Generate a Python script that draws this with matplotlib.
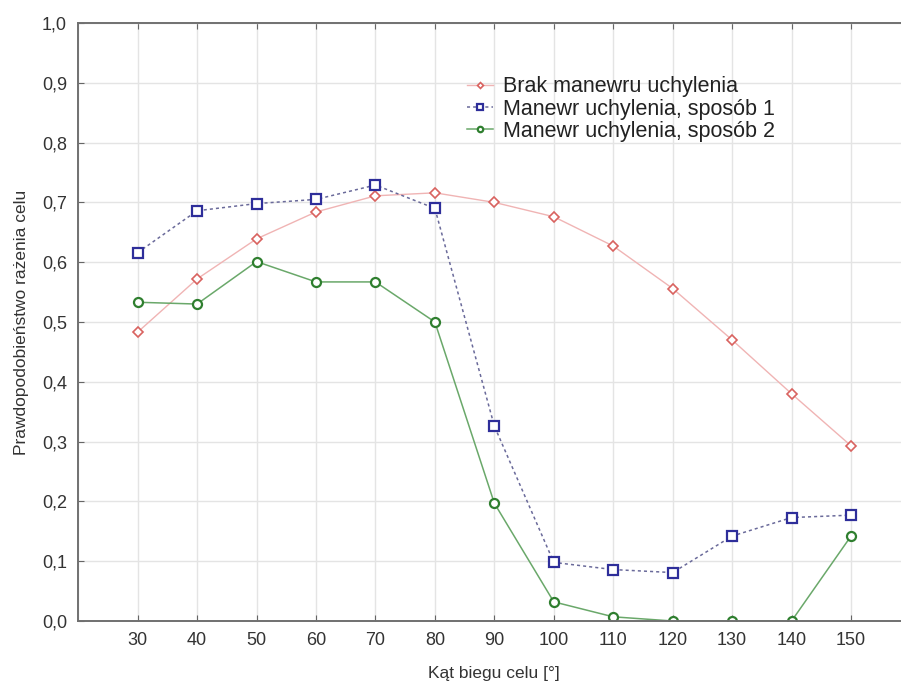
import matplotlib
matplotlib.use("Agg")
import matplotlib.pyplot as plt

# data
katy = [30, 40, 50, 60, 70, 80, 90, 100, 110, 120, 130, 140, 150]
brak = [0.483, 0.572, 0.639, 0.684, 0.711, 0.716, 0.700, 0.676, 0.627, 0.556, 0.470, 0.380, 0.293]
sposob1 = [0.616, 0.686, 0.698, 0.705, 0.729, 0.690, 0.326, 0.098, 0.086, 0.081, 0.142, 0.173, 0.177]
sposob2 = [0.533, 0.530, 0.601, 0.567, 0.567, 0.500, 0.197, 0.032, 0.007, 0.0, 0.0, 0.0, 0.142]

labels = ["Brak manewru uchylenia", "Manewr uchylenia, sposób 1", "Manewr uchylenia, sposób 2"]
y_ticks = [i / 10 for i in range(11)]

plt.rcParams["font.family"] = ["Liberation Sans", "DejaVu Sans"]

fig = plt.figure(figsize=(9.01, 6.84), dpi=100)
# right edge of the axes sits just outside the picture, as in the original
ax = fig.add_axes([0.0868, 0.0921, 0.9237, 0.8743])

ax.plot(katy, brak, color="#f0b4b4", lw=1.0, marker="D", ms=5,
        mfc="white", mec="#d9625f", mew=1.2, label=labels[0])
ax.plot(katy, sposob1, color="#6a6a9a", lw=1.1, ls=(0, (2, 2)), marker="s", ms=6.5,
        mfc="white", mec="#2e2e9a", mew=1.6, label=labels[1])
ax.plot(katy, sposob2, color="#6aa86a", lw=1.1, marker="o", ms=6.5,
        mfc="white", mec="#2f7f2f", mew=1.6, label=labels[2])

ax.set_xlim(20, 160)
ax.set_ylim(0, 1.0)
ax.set_xticks(katy)
ax.set_xticks([20, 160], minor=True)
ax.set_yticks(y_ticks)
ax.set_yticklabels([f"{v:.1f}".replace(".", ",") for v in y_ticks])

ax.grid(True, which="both", color="#e4e4e4", lw=1.0)
ax.set_axisbelow(True)
ax.tick_params(which="both", direction="in", length=4, top=True, right=False,
               labelsize=13, colors="#666666", labelcolor="#333333")
ax.tick_params(axis="x", pad=8)
ax.tick_params(axis="y", pad=8)
ax.tick_params(which="minor", length=0)
for s in ax.spines.values():
    s.set_color("#707070")
    s.set_linewidth(1.4)

ax.set_xlabel("Kąt biegu celu [°]", fontsize=12.5, color="#333333", labelpad=12)
ax.set_ylabel("Prawdopodobieństwo rażenia celu", fontsize=12.5, color="#333333", labelpad=9)

leg = ax.legend(loc="upper left", bbox_to_anchor=(0.444, 0.943), frameon=False,
                fontsize=15.5, handlelength=1.2, handletextpad=0.45,
                labelspacing=0.05, markerscale=0.6)
for t in leg.get_texts():
    t.set_color("#222222")

fig.savefig("out.png", dpi=100)
